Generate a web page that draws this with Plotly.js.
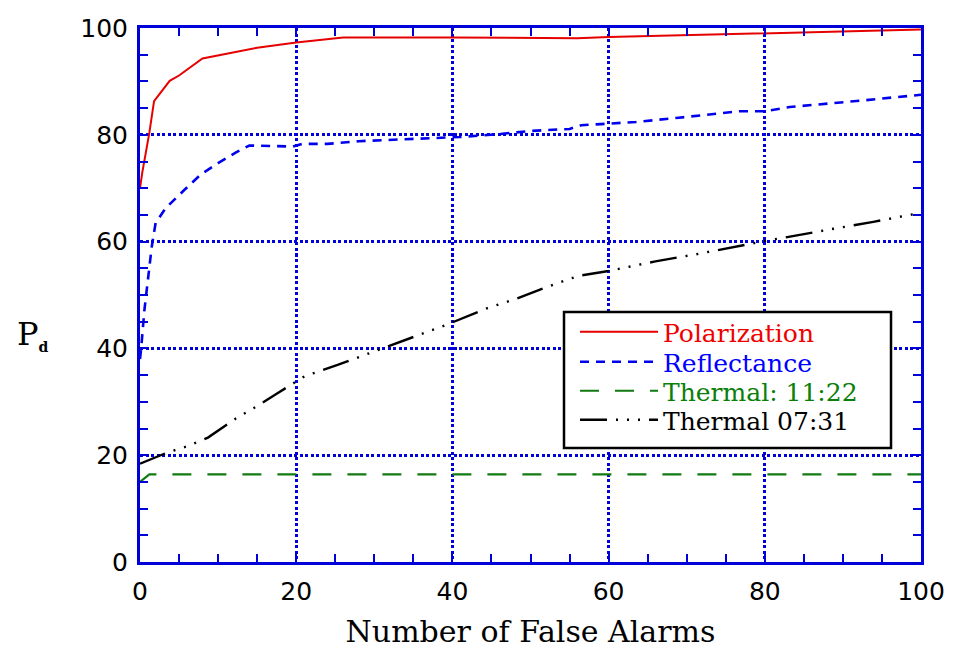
<!DOCTYPE html>
<html><head><meta charset="utf-8">
<script src="https://cdn.plot.ly/plotly-3.0.1.min.js"></script>
<style>html,body{margin:0;padding:0;background:#fff}#chart{width:956px;height:650px}</style>
</head><body><div id="chart"></div>
<script>
// Series names
const seriesNames = ["Polarization", "Reflectance", "Thermal: 11:22", "Thermal 07:31"];

// Polarization (red solid)
const polX = [0, 0.3, 1.2, 1.8, 3.8, 5, 8, 11.4, 15, 20, 26, 40, 56, 60, 80, 100];
const polY = [70, 73, 80.4, 86.3, 90.1, 91.1, 94.3, 95.3, 96.3, 97.3, 98.2, 98.2, 98.1, 98.3, 99, 99.7];

// Reflectance (blue dashed)
const refX = [0, 0.15, 0.55, 1.0, 1.5, 2, 3.3, 5.7, 7.8, 10, 12.3, 14, 19.6, 20.8, 24, 28, 36.6, 41, 45.8, 49.8, 55, 56.5, 59, 63.5, 69, 76.7, 80, 83.2, 92.3, 100];
const refY = [38, 40, 47, 53, 59, 63.5, 66.3, 69.7, 72.6, 74.7, 76.7, 78, 77.8, 78.3, 78.3, 78.8, 79.4, 79.6, 80.1, 80.7, 81.1, 81.8, 82, 82.4, 83.2, 84.4, 84.4, 85.2, 86.4, 87.5];

// Thermal 11:22 (green long dash)
const t1122X = [0, 1.2, 100];
const t1122Y = [15, 16.4, 16.4];

// Thermal 07:31 (black dash-dot-dot)
const t0731X = [0, 3.5, 6.1, 8.7, 12.3, 14.9, 17.6, 21.1, 25.3, 30, 35.4, 39.2, 44.4, 48, 53.4, 56.2, 60, 66, 71.1, 80, 88.8, 93.9, 100];
const t0731Y = [18.4, 20.5, 21.7, 23.3, 26.9, 29.1, 31.6, 34.8, 36.9, 39.4, 42.3, 44.4, 47.5, 49.2, 52.2, 53.6, 54.5, 56.3, 57.6, 60.1, 62.4, 63.7, 65.4];

const xTicks = [0, 20, 40, 60, 80, 100];
const yTicks = [0, 20, 40, 60, 80, 100];

const frameBlue = "#0000d8";
const legendColors = ["#ee0000", "#0000ff", "#0a800a", "#000000"];
const legendIds = ["legend", "legend2", "legend3", "legend4"];
const legendRowY = [0.4307, 0.3745, 0.3202, 0.2659];

const traces = [
  {x: polX, y: polY, mode: "lines", line: {color: "#e60000", width: 2}},
  {x: refX, y: refY, mode: "lines", line: {color: "#0000ee", width: 2.6, dash: "9px,7px"}},
  {x: t1122X, y: t1122Y, mode: "lines", line: {color: "#117a11", width: 2.2, dash: "19px,16px"}},
  {x: t0731X, y: t0731Y, mode: "lines", line: {color: "#000000", width: 2.4, dash: "27px,9px,2px,9px,2px,9px,2px,9px"}}
].map((t, i) => Object.assign(t, {
  name: '<span style="color:' + legendColors[i] + '">' + seriesNames[i] + '</span>',
  legend: legendIds[i],
  hoverinfo: "skip"
}));

const axisCommon = {
  showline: true, linecolor: frameBlue, linewidth: 3, mirror: "allticks",
  showgrid: true, gridcolor: frameBlue, gridwidth: 3, griddash: "3px,2.5px",
  zeroline: false, ticks: "inside", ticklen: 8, tickwidth: 2, tickcolor: frameBlue,
  minor: {dtick: 5, ticks: "inside", ticklen: 8, tickwidth: 2, tickcolor: frameBlue, showgrid: false},
  tickfont: {family: "DejaVu Sans", size: 25, color: "#000"},
  fixedrange: true
};

const layout = {
  width: 956, height: 650,
  margin: {l: 140, r: 35, t: 28, b: 88},
  paper_bgcolor: "#fff", plot_bgcolor: "#fff",
  showlegend: true,
  xaxis: Object.assign({}, axisCommon, {
    range: [0, 100], tickmode: "array", tickvals: xTicks, ticktext: xTicks.map(String),
    title: {text: "Number of False Alarms", font: {family: "DejaVu Serif", size: 30, color: "#000"}, standoff: 16},
    ticklabelstandoff: 5
  }),
  yaxis: Object.assign({}, axisCommon, {
    range: [0, 100], tickmode: "array", tickvals: yTicks, ticktext: yTicks.map(String),
    ticklabelstandoff: 4
  }),
  shapes: [{
    type: "rect", xref: "paper", yref: "paper", layer: "above",
    x0: 0.5429, x1: 0.9616, y0: 0.2135, y1: 0.4682,
    fillcolor: "#fff", line: {color: "#000", width: 2.5}
  }],
  annotations: [{
    xref: "paper", yref: "paper", x: -0.137, y: 0.426, xanchor: "center", yanchor: "middle",
    showarrow: false, text: 'P<sub><span style="font-size:14px;font-weight:bold">d</span></sub>',
    font: {family: "DejaVu Serif", size: 32, color: "#000"}
  }]
};

legendIds.forEach((id, i) => {
  layout[id] = {
    x: 0.557, y: legendRowY[i], xanchor: "left", yanchor: "middle",
    bgcolor: "rgba(0,0,0,0)", borderwidth: 0,
    font: {family: "DejaVu Serif", size: 25, color: "#000"},
    itemwidth: 78
  };
});

Plotly.newPlot("chart", traces, layout, {displayModeBar: false, staticPlot: true});
</script>
</body></html>
